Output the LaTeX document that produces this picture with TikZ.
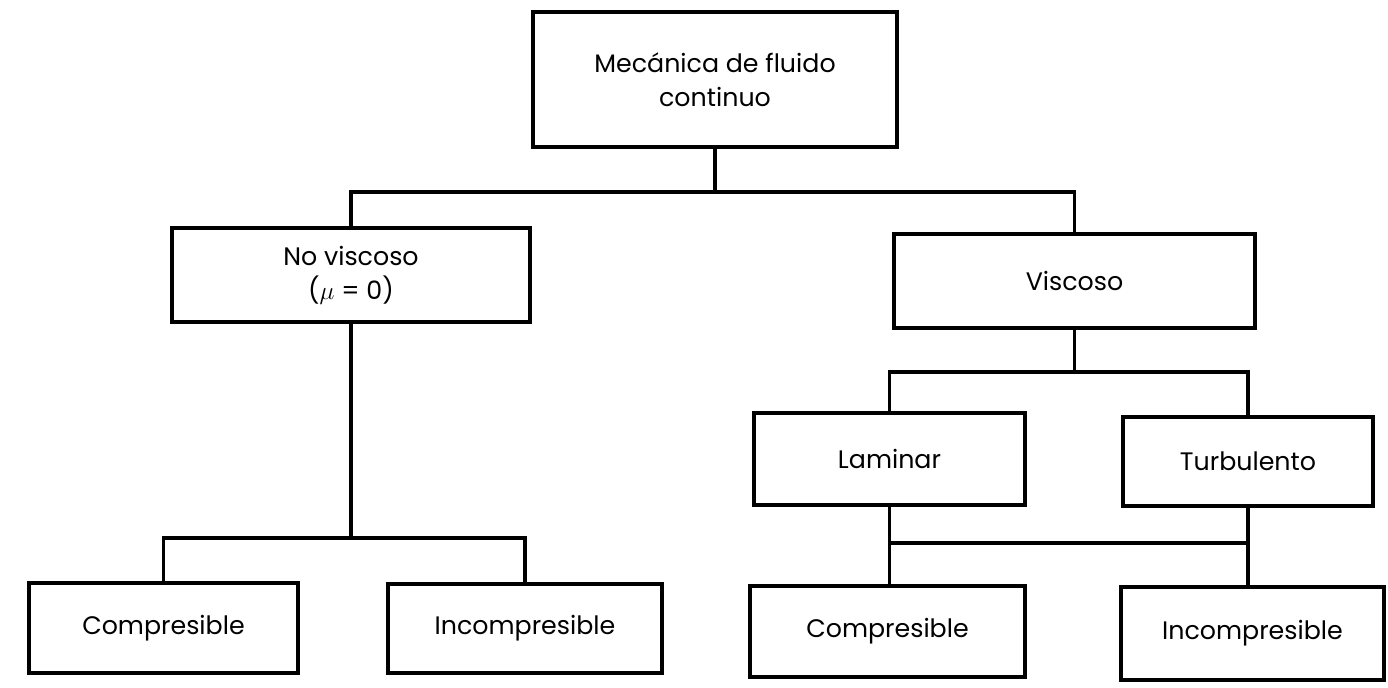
\documentclass[tikz,border=0pt]{standalone}
\usepackage{fontspec}
\setmainfont{Poppins}
\usetikzlibrary{positioning}
\tikzset{every path/.style={black,line width=2pt}, caja/.style={draw, inner sep=0pt, align=center, font=\fontsize{14.4}{19.4}\selectfont}}

\begin{document}
\begin{tikzpicture}[x=0.02cm, y=-0.02cm]
  \useasboundingbox (0,0) rectangle (1388,688);
  \node[caja, minimum width=7.28cm, minimum height=2.70cm] (top) at ( 715.0,  79.5) {Mecánica de fluido\\continuo};
  \node[caja, minimum width=7.16cm, minimum height=1.88cm] (nov) at ( 351.0, 275.0) {No viscoso\\($\mu$ = 0)};
  \node[caja, minimum width=7.22cm, minimum height=1.88cm] (vis) at (1074.5, 281.0) {Viscoso};
  \node[caja, minimum width=5.42cm, minimum height=1.84cm] (lam) at ( 889.5, 459.0) {Laminar};
  \node[caja, minimum width=5.00cm, minimum height=1.78cm] (tur) at (1248.0, 461.5) {Turbulento};
  \node[caja, minimum width=5.38cm, minimum height=1.80cm] (c1)  at ( 163.5, 628.0) {Compresible};
  \node[caja, minimum width=5.48cm, minimum height=1.78cm] (i1)  at ( 525.0, 628.5) {Incompresible};
  \node[caja, minimum width=5.50cm, minimum height=1.82cm] (c2)  at ( 887.5, 631.5) {Compresible};
  \node[caja, minimum width=5.26cm, minimum height=1.86cm] (i2)  at (1252.5, 633.5) {Incompresible};
  \coordinate (j1) at (0,192);
  \coordinate (j2) at (0,538);
  \coordinate (j3) at (0,372);
  \coordinate (j4) at (0,543);
  \draw (top.south) -- (top.south |- j1);
  \draw (nov.north) -- (nov.north |- j1) -- (vis.north |- j1) -- (vis.north);
  \draw (nov.south) -- (nov.south |- j2);
  \draw (c1.north) -- (c1.north |- j2) -- (i1.north |- j2) -- (i1.north);
  \draw (vis.south) -- (vis.south |- j3);
  \draw (lam.north) -- (lam.north |- j3) -- (tur.north |- j3) -- (tur.north);
  \draw (lam.south) -- (lam.south |- c2.north);
  \draw (tur.south) -- (tur.south |- i2.north);
  \draw (lam.south |- j4) -- (tur.south |- j4);
\end{tikzpicture}
\end{document}
